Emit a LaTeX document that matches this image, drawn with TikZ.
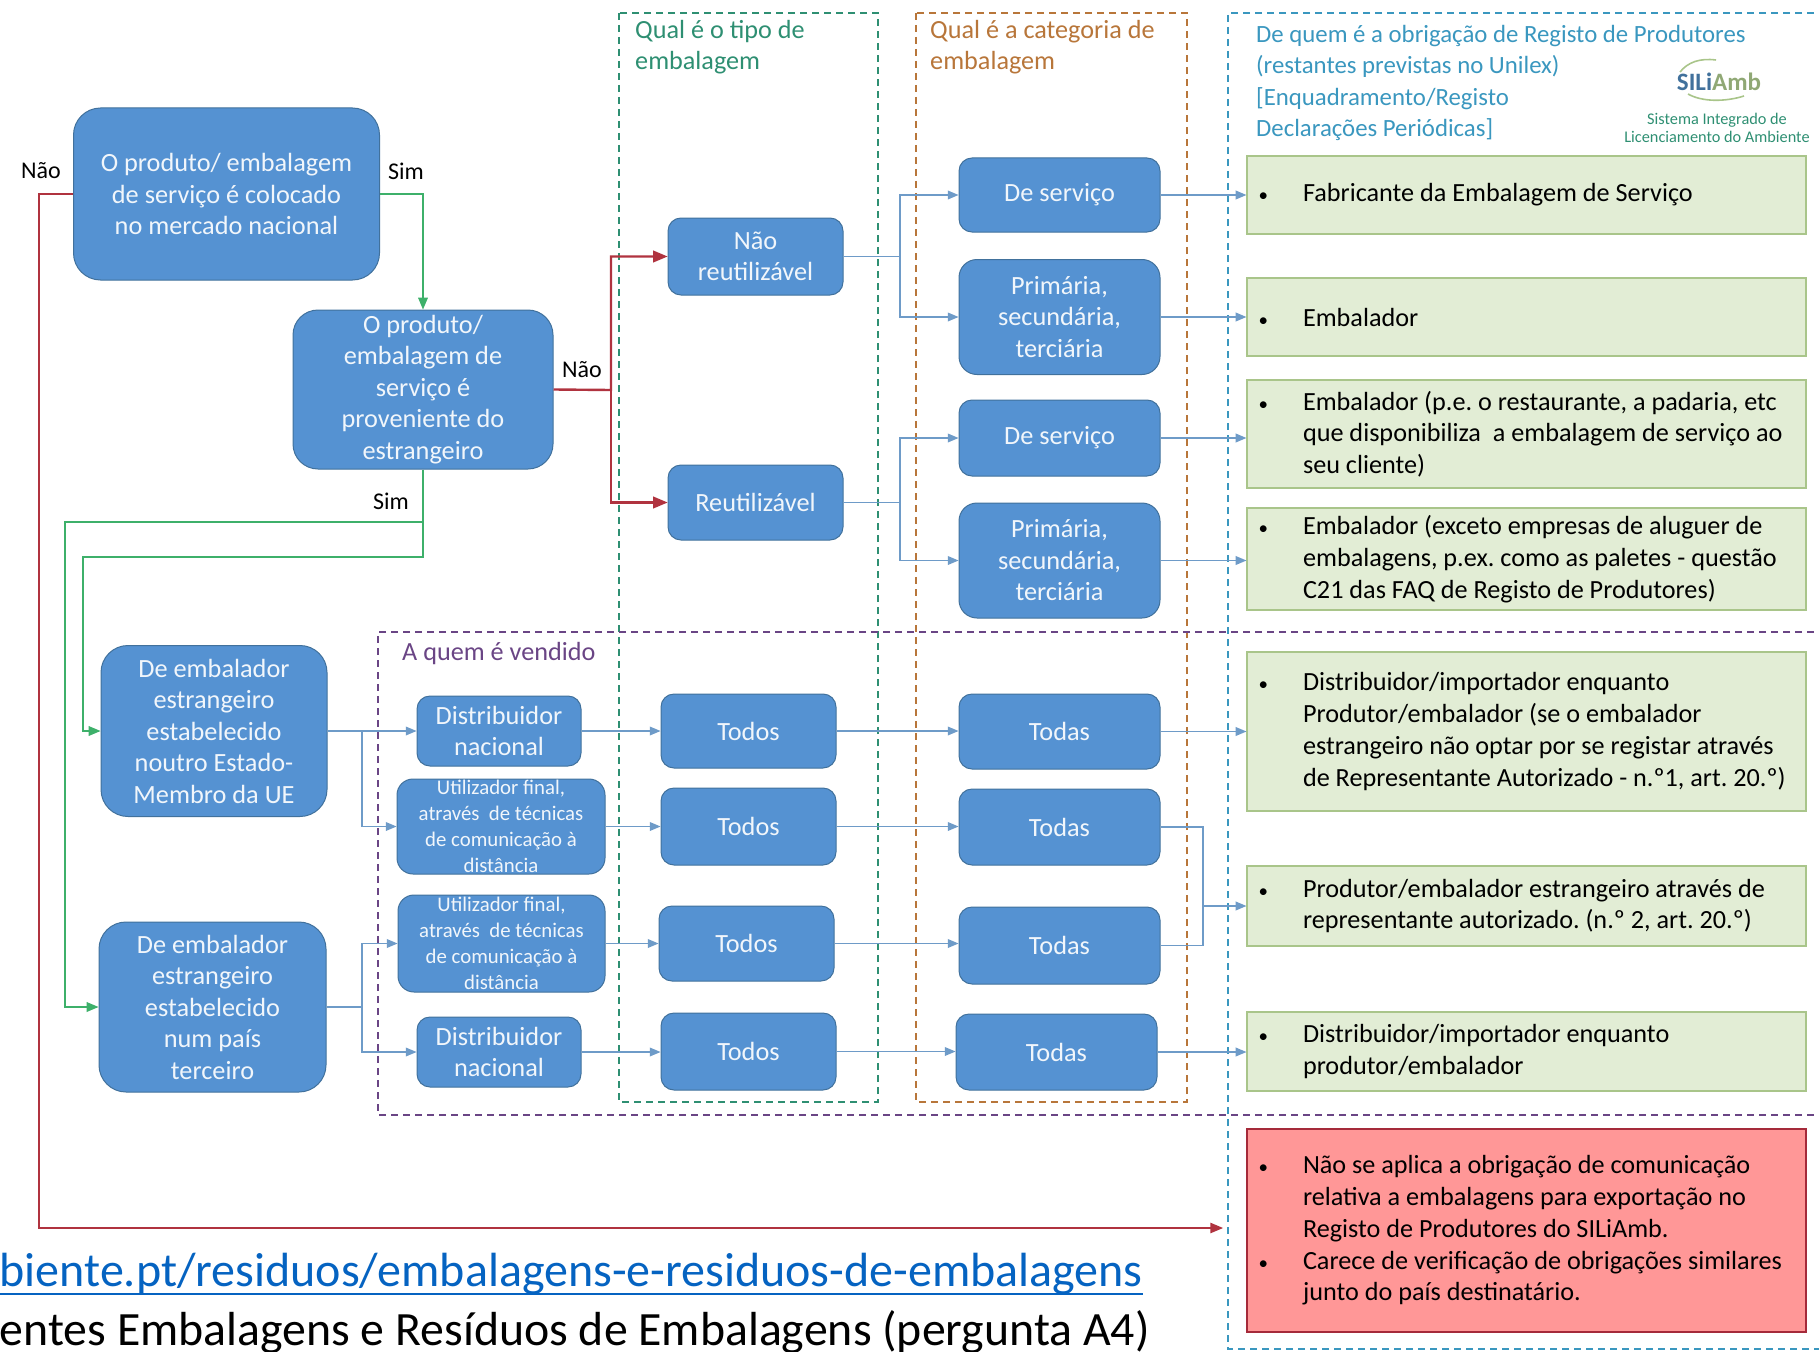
\documentclass[tikz,border=0pt]{standalone}
\usepackage{fontspec}
\setmainfont{Carlito}
\usetikzlibrary{arrows}
\definecolor{boxblue}{HTML}{5592D2}
\definecolor{boxedge}{HTML}{41719C}
\definecolor{lineblue}{HTML}{6E9BC8}
\definecolor{linegreen}{HTML}{3DB06A}
\definecolor{linered}{HTML}{B0333F}
\definecolor{notegreen}{HTML}{E2EDD5}
\definecolor{noteedge}{HTML}{A9C58A}
\definecolor{notered}{HTML}{FF9797}
\definecolor{rededge}{HTML}{A52A3A}
\definecolor{tipocol}{HTML}{2E8F72}
\definecolor{catcol}{HTML}{B8763A}
\definecolor{obrigcol}{HTML}{3A97BF}
\definecolor{quemcol}{HTML}{6A4585}
\definecolor{linkblue}{HTML}{0563C1}
\newcommand{\bulitem}{\leavevmode\llap{{\fontsize{19}{19}\selectfont •}\hspace{35pt}}}
\newcommand{\notetext}[1]{\parbox{559pt}{\raggedright\frenchspacing\leftskip=56pt\relax #1\par}}
\tikzset{
	bluebox/.style={draw=boxedge,fill=boxblue,line width=1pt,rounded corners=13pt,inner sep=0pt,align=center,text=white!92!boxblue,font=\fontsize{26.3}{31.5}\selectfont},
	smallbox/.style={bluebox,font=\fontsize{20.8}{26}\selectfont},
	notebox/.style={draw=noteedge,fill=notegreen,line width=1.2pt,inner sep=0pt,minimum width=559pt,font=\fontsize{26.2}{31.7}\selectfont},
	framebox/.style={dashed,dash pattern=on 7pt off 5pt,line width=1.1pt},
	bluearrow/.style={draw=lineblue,line width=1.5pt,->,>=triangle 45},
	blueline/.style={draw=lineblue,line width=1.5pt},
	greenarrow/.style={draw=linegreen,line width=1.8pt,->,>=triangle 45},
	redarrow/.style={draw=linered,line width=2pt,->,>=triangle 45},
	label/.style={inner sep=0pt,font=\fontsize{24}{30}\selectfont},
	title/.style={inner sep=0pt,anchor=west,align=left,font=\fontsize{26.2}{31.5}\selectfont}
}
\begin{document}
\begin{tikzpicture}[line cap=butt,line join=miter,x=1pt,y=-1pt]
	\useasboundingbox (0,0) rectangle (1819,1351);
	\clip (0,0) rectangle (1819,1351);
	% frames
	\draw[framebox,draw=obrigcol] (1850,13) -- (1228,13) -- (1228,1349) -- (1850,1349);
	\draw[framebox,draw=tipocol] (619,13) rectangle (878,1102);
	\draw[framebox,draw=catcol] (916,13) rectangle (1187,1102);
	\draw[framebox,draw=quemcol] (1850,632) -- (378,632) -- (378,1115) -- (1850,1115);
	\node[title,text=tipocol] (ttipo) at (635,47) {Qual é o tipo de\\embalagem};
	\node[title,text=catcol] (tcat) at (930,47) {Qual é a categoria de\\embalagem};
	\node[title,text=obrigcol,font=\fontsize{24.8}{31.5}\selectfont] (tobrig) at (1256,83) {De quem é a obrigação de Registo de Produtores\\(restantes previstas no Unilex)\\{[}Enquadramento/Registo\\Declarações Periódicas]};
	\node[title,text=quemcol] (tquem) at (402,654) {A quem é vendido};
	% logo
	\node[inner sep=0pt,font=\fontsize{25}{25}\selectfont\bfseries] (logo) at (1719,82) {\textcolor{boxedge}{SILi}\textcolor{noteedge!85!black}{Amb}};
	\draw[noteedge,line width=1.6pt] (1680,72) .. controls (1688,62) and (1700,58) .. (1716,60);
	\draw[noteedge,line width=1.6pt] (1688,94) .. controls (1702,102) and (1725,102) .. (1744,96);
	\node[inner sep=0pt,text=tipocol,align=center,font=\fontsize{16.3}{17.5}\selectfont] (logotxt) at (1717,128) {Sistema Integrado de\\Licenciamento do Ambiente};
	% left column
	\node[bluebox,rounded corners=27pt,minimum width=306pt,minimum height=172pt] (merc) at (226.5,194) {O produto/ embalagem\\de serviço é colocado\\no mercado nacional};
	\node[bluebox,rounded corners=25pt,minimum width=260pt,minimum height=159pt] (estr) at (423,389.5) {O produto/\\embalagem de\\serviço é\\proveniente do\\estrangeiro};
	\node[bluebox,rounded corners=27pt,minimum width=226pt,minimum height=171pt] (ue) at (214,731) {De embalador\\estrangeiro\\estabelecido\\noutro Estado-\\Membro da UE};
	\node[bluebox,rounded corners=27pt,minimum width=227pt,minimum height=170pt] (terc) at (212.5,1007) {De embalador\\estrangeiro\\estabelecido\\num país\\terceiro};
	% tipo
	\node[bluebox,minimum width=175pt,minimum height=77pt] (nreu) at (755.5,256.5) {Não\\reutilizável};
	\node[bluebox,minimum width=175pt,minimum height=75pt] (reu) at (755.5,502.5) {Reutilizável};
	% categoria
	\node[bluebox,minimum width=201pt,minimum height=74pt] (serv1) at (1059.5,195) {De serviço};
	\node[bluebox,rounded corners=18pt,minimum width=201pt,minimum height=115pt] (prim1) at (1059.5,317) {Primária,\\secundária,\\terciária};
	\node[bluebox,minimum width=201pt,minimum height=76pt] (serv2) at (1059.5,438) {De serviço};
	\node[bluebox,rounded corners=18pt,minimum width=201pt,minimum height=115pt] (prim2) at (1059.5,560.5) {Primária,\\secundária,\\terciária};
	% a quem
	\node[bluebox,minimum width=164pt,minimum height=70pt] (dist1) at (499,731) {Distribuidor\\nacional};
	\node[smallbox,rounded corners=16pt,minimum width=208pt,minimum height=95pt] (util1) at (501,826.5) {Utilizador final,\\através\ \ de técnicas\\de comunicação à\\distância};
	\node[smallbox,rounded corners=16pt,minimum width=207pt,minimum height=97pt] (util2) at (501.5,943.5) {Utilizador final,\\através\ \ de técnicas\\de comunicação à\\distância};
	\node[bluebox,minimum width=164pt,minimum height=70pt] (dist2) at (499,1052) {Distribuidor\\nacional};
	\node[bluebox,minimum width=175pt,minimum height=74pt] (tod1) at (748.5,731) {Todos};
	\node[bluebox,minimum width=175pt,minimum height=77pt] (tod2) at (748.5,826.5) {Todos};
	\node[bluebox,minimum width=175pt,minimum height=75pt] (tod3) at (746.5,943.5) {Todos};
	\node[bluebox,minimum width=175pt,minimum height=77pt] (tod4) at (748.5,1051.5) {Todos};
	\node[bluebox,minimum width=201pt,minimum height=75pt] (toda1) at (1059.5,731.5) {Todas};
	\node[bluebox,minimum width=201pt,minimum height=76pt] (toda2) at (1059.5,827) {Todas};
	\node[bluebox,minimum width=201pt,minimum height=77pt] (toda3) at (1059.5,945.5) {Todas};
	\node[bluebox,minimum width=201pt,minimum height=76pt] (toda4) at (1056.5,1052) {Todas};
	% obrigacao
	\node[notebox,minimum height=78pt] (ob1) at (1526.5,195) {\notetext{\bulitem Fabricante da Embalagem de Serviço}};
	\node[notebox,minimum height=78pt] (ob2) at (1526.5,317) {\notetext{\bulitem Embalador}};
	\node[notebox,minimum height=108pt] (ob3) at (1526.5,434) {\notetext{\bulitem Embalador (p.e. o restaurante, a padaria, etc\\que disponibiliza\ \ a embalagem de serviço ao\\seu cliente)}};
	\node[notebox,minimum height=102pt] (ob4) at (1526.5,559) {\notetext{\bulitem Embalador (exceto empresas de aluguer de\\embalagens, p.ex. como as paletes - questão\\C21 das FAQ de Registo de Produtores)}};
	\node[notebox,minimum height=159pt] (ob5) at (1526.5,731.5) {\notetext{\bulitem Distribuidor/importador enquanto\\Produtor/embalador (se o embalador\\estrangeiro não optar por se registar através\\de Representante Autorizado - n.º1, art. 20.º)}};
	\node[notebox,minimum height=80pt] (ob6) at (1526.5,906) {\notetext{\bulitem Produtor/embalador estrangeiro através de\\representante autorizado. (n.º 2, art. 20.º)}};
	\node[notebox,minimum height=79pt] (ob7) at (1526.5,1051.5) {\notetext{\bulitem Distribuidor/importador enquanto\\produtor/embalador}};
	\node[notebox,draw=rededge,fill=notered,minimum height=203pt] (ob8) at (1526.5,1230.5) {\notetext{\bulitem Não se aplica a obrigação de comunicação\\relativa a embalagens para exportação no\\Registo de Produtores do SILiAmb.\\\bulitem Carece de verificação de obrigações similares\\junto do país destinatário.}};
	% labels
	\node[label] (lnao1) at (41,171) {Não};
	\node[label] (lsim1) at (406,171) {Sim};
	\node[label] (lnao2) at (582,370) {Não};
	\node[label] (lsim2) at (391,501) {Sim};
	% bottom text
	\node[inner sep=0pt,anchor=base east,text=linkblue,font=\fontsize{48}{48}\selectfont] (link) at (1143,1286) {biente.pt/residuos/embalagens-e-residuos-de-embalagens};
	\draw[linkblue,line width=2.8pt] ([yshift=-8pt]link.base west) -- ([yshift=-8pt]link.base east);
	\node[inner sep=0pt,anchor=base east,font=\fontsize{47.8}{48}\selectfont] (fonte) at (1150,1345) {entes Embalagens e Resíduos de Embalagens (pergunta A4)};
	% green and red paths
	\coordinate (jred) at (611,390);
	\coordinate (jgreen1) at (423,557);
	\coordinate (jgreen2) at (423,522);
	\coordinate (cnao) at (39,1228);
	\coordinate (cfim) at (1223,1228);
	\draw[greenarrow] (merc.east) -| (estr.north);
	\draw[greenarrow] (estr.south) -- (jgreen1) -| (83,640) |- (ue.west);
	\draw[greenarrow] (jgreen2) -| (65,800) |- (terc.west);
	\draw[redarrow] (merc.west) -| (cnao) -- (cfim);
	\draw[redarrow,line width=2.4pt] (estr.east) -- (jred) |- (nreu.west);
	\draw[redarrow,line width=2.4pt] (jred) |- (reu.west);
	% blue arrows
	\coordinate (jnreu) at (900,256.5);
	\coordinate (jreu) at (900,502.5);
	\coordinate (jue) at (362,731);
	\coordinate (jterc) at (362,1007);
	\coordinate (jtoda) at (1203,906);
	\draw[bluearrow] (nreu.east) -- (jnreu) |- (serv1.west);
	\draw[bluearrow] (jnreu) |- (prim1.west);
	\draw[bluearrow] (reu.east) -- (jreu) |- (serv2.west);
	\draw[bluearrow] (jreu) |- (prim2.west);
	\draw[bluearrow] (serv1.east) -- (ob1.west);
	\draw[bluearrow] (prim1.east) -- (ob2.west);
	\draw[bluearrow] (serv2.east) -- (serv2.east -| ob3.west);
	\draw[bluearrow] (prim2.east) -- (prim2.east -| ob4.west);
	\draw[bluearrow] (ue.east) -- (dist1.west);
	\draw[bluearrow] (jue) |- (util1.west);
	\draw[bluearrow] (terc.east -| jterc) |- (util2.west);
	\draw[bluearrow] (terc.east) -- (jterc) |- (dist2.west);
	\draw[bluearrow] (dist1.east) -- (dist1.east -| tod1.west);
	\draw[bluearrow] (util1.east) -- (util1.east -| tod2.west);
	\draw[bluearrow] (util2.east) -- (util2.east -| tod3.west);
	\draw[bluearrow] (dist2.east) -- (dist2.east -| tod4.west);
	\draw[bluearrow] (tod1.east) -- (tod1.east -| toda1.west);
	\draw[bluearrow] (tod2.east) -- (tod2.east -| toda2.west);
	\draw[bluearrow] (tod3.east) -- (tod3.east -| toda3.west);
	\draw[bluearrow] (tod4.east) -- (tod4.east -| toda4.west);
	\draw[bluearrow] (toda1.east) -- (toda1.east -| ob5.west);
	\draw[blueline] (toda2.east) -| (jtoda) |- (toda3.east);
	\draw[bluearrow] (jtoda) -- (ob6.west);
	\draw[bluearrow] (toda4.east) -- (toda4.east -| ob7.west);
\end{tikzpicture}
\end{document}
